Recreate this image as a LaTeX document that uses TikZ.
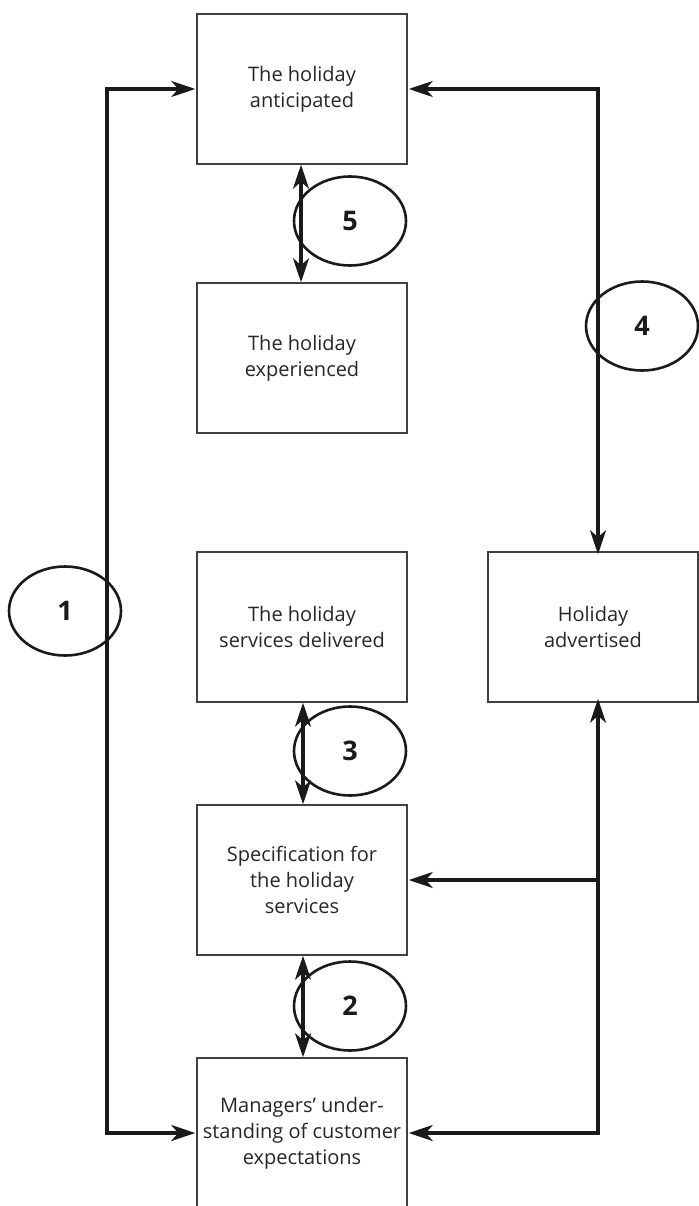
\documentclass[tikz,border=0pt]{standalone}
\usepackage{fontspec}
\setmainfont{Open Sans}
\usetikzlibrary{arrows.meta,shapes.geometric}
\definecolor{txt}{HTML}{262626}
\definecolor{boxc}{HTML}{404040}
\definecolor{ink}{HTML}{1A1A1A}
\tikzset{
  stagebox/.style={draw=boxc, line width=1.5pt, minimum width=210pt, minimum height=150pt,
    inner sep=0pt, align=center, text=txt, font=\fontsize{20}{26}\selectfont},
  gapmark/.style={draw=ink, ellipse, line width=2.6pt, minimum width=112pt, minimum height=89pt,
    inner sep=0pt, text=ink, font=\bfseries\fontsize{27}{30}\selectfont},
  conn/.style={draw=ink, line width=3.2pt,
    arrows={Stealth[length=24pt,width=16pt,inset=7pt]-Stealth[length=24pt,width=16pt,inset=7pt]}},
  oneway/.style={draw=ink, line width=3.2pt, -{Stealth[length=24pt,width=16pt,inset=7pt]}},
}
\begin{document}
\begin{tikzpicture}[x=1pt,y=-1pt]
\useasboundingbox (0,0) rectangle (698,1206);
\node[stagebox] (ant)  at (302,89)   {The holiday\\anticipated};
\node[stagebox] (exp)  at (302,358)  {The holiday\\experienced};
\node[stagebox] (del)  at (302,627)  {The holiday\\services delivered};
\node[stagebox] (spec) at (302,880)  {Specification for\\the holiday\\services};
\node[stagebox] (man)  at (302,1133) {Managers’ under-\\standing of customer\\expectations};
\node[stagebox] (adv)  at (593,627)  {Holiday\\advertised};

\coordinate (lx) at (107,0);
\coordinate (rx) at (598,0);

% gap 1
\draw[conn] ([xshift=-1pt]ant.west) -| (lx |- ant.west) |- ([xshift=-1pt]man.west);
% gap 4
\draw[conn] ([xshift=1pt]ant.east) -| ([yshift=-3pt]rx |- adv.north);
% advertised to managers / spec
\draw[conn] ([xshift=1pt]man.east) -| ([yshift=4pt]rx |- adv.south);
\draw[oneway] (rx |- spec.east) -- ([xshift=1pt]spec.east);
% gaps 5,3,2
\draw[conn] ([xshift=-1pt]ant.south) -- ([xshift=-1pt]exp.north);
\draw[conn] ([xshift=1pt]del.south) -- ([xshift=1pt]spec.north);
\draw[conn] ([xshift=1pt]spec.south) -- ([xshift=1pt]man.north);

\node[gapmark] (g5) at (350,221)  {5};
\node[gapmark] (g4) at (642,326)  {4};
\node[gapmark] (g3) at (350,751)  {3};
\node[gapmark] (g2) at (350,1006) {2};
\node[gapmark] (g1) at (65,611)   {1};
\end{tikzpicture}
\end{document}
